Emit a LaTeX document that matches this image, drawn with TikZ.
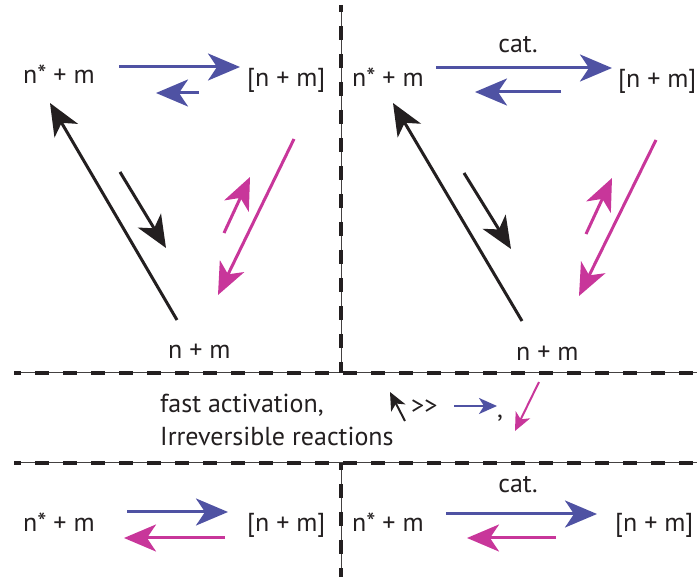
\documentclass[tikz,border=0pt]{standalone}
\usepackage{fontspec}
\setmainfont{PT Sans}
\usetikzlibrary{arrows.meta}
\definecolor{cblue}{HTML}{4F52A3}
\definecolor{cmag}{HTML}{C8369A}
\definecolor{cblk}{HTML}{231F20}
\begin{document}
\begin{tikzpicture}[x=1pt,y=-1pt,
 lbl/.style={inner sep=0pt, font=\fontsize{26}{30}\selectfont, text=cblk},
 big/.style={line width=3pt, -{Stealth[length=32pt,width=27pt,inset=9pt]}},
 tiny/.style={line width=2pt, -{Stealth[length=18pt,width=16pt,inset=5pt]}},
 divline/.style={draw=cblk!85, line width=1pt},
 divdash/.style={draw=cblk, line width=4pt, dash pattern=on 14pt off 14pt},
]
\useasboundingbox (0,0) rectangle (697,577);
% divider lines
\coordinate (h1a) at (14,373); \coordinate (h1b) at (697,373);
\coordinate (h2a) at (14,463); \coordinate (h2b) at (697,463);
\coordinate (v1a) at (341,5);  \coordinate (v1b) at (341,373);
\coordinate (v2a) at (341,463); \coordinate (v2b) at (341,577);
\foreach \p/\q in {h1a/h1b,h2a/h2b,v1a/v1b,v2a/v2b}{
  \draw[divline] (\p) -- (\q);
  \draw[divdash, dash phase=7pt] (\p) -- (\q);
}

% ---------- top-left panel ----------
\node[lbl, anchor=base west] (tlA) at (23,84) {n* + m};
\node[lbl, anchor=base west] (tlB) at (247,87) {[n + m]};
\node[lbl, anchor=base west] (tlC) at (168,359) {n + m};
\coordinate (tl1s) at (119,67);  \coordinate (tl1e) at (240,67);
\coordinate (tl2s) at (199,93);  \coordinate (tl2e) at (156,93);
\coordinate (tl3s) at (177,320); \coordinate (tl3e) at (50,103);
\coordinate (tl4s) at (120,172); \coordinate (tl4e) at (166,248);
\coordinate (tl5s) at (224,233); \coordinate (tl5e) at (250,177);
\coordinate (tl6s) at (294,139); \coordinate (tl6e) at (218,295);
\draw[big, cblue] (tl1s) -- (tl1e);
\draw[big, cblue] (tl2s) -- (tl2e);
\draw[big, cblk] (tl3s) -- (tl3e);
\draw[big, cblk] (tl4s) -- (tl4e);
\draw[big, cmag] (tl5s) -- (tl5e);
\draw[big, cmag] (tl6s) -- (tl6e);

% ---------- top-right panel ----------
\node[lbl, anchor=base] (trCat) at (518,53) {cat.};
\node[lbl, anchor=base west] (trA) at (352,87) {n* + m};
\node[lbl, anchor=base west] (trB) at (618,88) {[n + m]};
\node[lbl, anchor=base west] (trC) at (516,361) {n + m};
\coordinate (tr1s) at (436,68);  \coordinate (tr1e) at (612,68);
\coordinate (tr2s) at (561,92);  \coordinate (tr2e) at (475,92);
\coordinate (tr3s) at (522,321); \coordinate (tr3e) at (393,103);
\coordinate (tr4s) at (464,173); \coordinate (tr4e) at (511,249);
\coordinate (tr5s) at (586,234); \coordinate (tr5e) at (612,178);
\coordinate (tr6s) at (656,140); \coordinate (tr6e) at (579,296);
\draw[big, cblue] (tr1s) -- (tr1e);
\draw[big, cblue] (tr2s) -- (tr2e);
\draw[big, cblk] (tr3s) -- (tr3e);
\draw[big, cblk] (tr4s) -- (tr4e);
\draw[big, cmag] (tr5s) -- (tr5e);
\draw[big, cmag] (tr6s) -- (tr6e);

% ---------- middle ----------
\node[lbl, anchor=base west] (mid1) at (160,413) {fast activation,};
\node[lbl, anchor=base west] (mid2) at (160,446) {Irreversible reactions};
\coordinate (m1s) at (405,421); \coordinate (m1e) at (390,392);
\draw[tiny, cblk] (m1s) -- (m1e);
\node[lbl, anchor=base west] (gg) at (411,415) {>{}>};
\coordinate (m2s) at (454,406); \coordinate (m2e) at (497,406);
\draw[tiny, cblue] (m2s) -- (m2e);
\node[lbl, anchor=base] (comma) at (500,418) {,};
\coordinate (m3s) at (539,382); \coordinate (m3e) at (515,431);
\draw[tiny, cmag] (m3s) -- (m3e);

% ---------- bottom-left ----------
\node[lbl, anchor=base west] (blA) at (23,532) {n* + m};
\node[lbl, anchor=base west] (blB) at (247,532) {[n + m]};
\coordinate (bl1s) at (127,512); \coordinate (bl1e) at (228,512);
\coordinate (bl2s) at (225,538); \coordinate (bl2e) at (124,538);
\draw[big, cblue] (bl1s) -- (bl1e);
\draw[big, cmag] (bl2s) -- (bl2e);

% ---------- bottom-right ----------
\node[lbl, anchor=base] (brCat) at (518,493) {cat.};
\node[lbl, anchor=base west] (brA) at (352,532) {n* + m};
\node[lbl, anchor=base west] (brB) at (615,532) {[n + m]};
\coordinate (br1s) at (446,514); \coordinate (br1e) at (597,514);
\coordinate (br2s) at (556,538); \coordinate (br2e) at (467,538);
\draw[big, cblue] (br1s) -- (br1e);
\draw[big, cmag] (br2s) -- (br2e);
\end{tikzpicture}
\end{document}
